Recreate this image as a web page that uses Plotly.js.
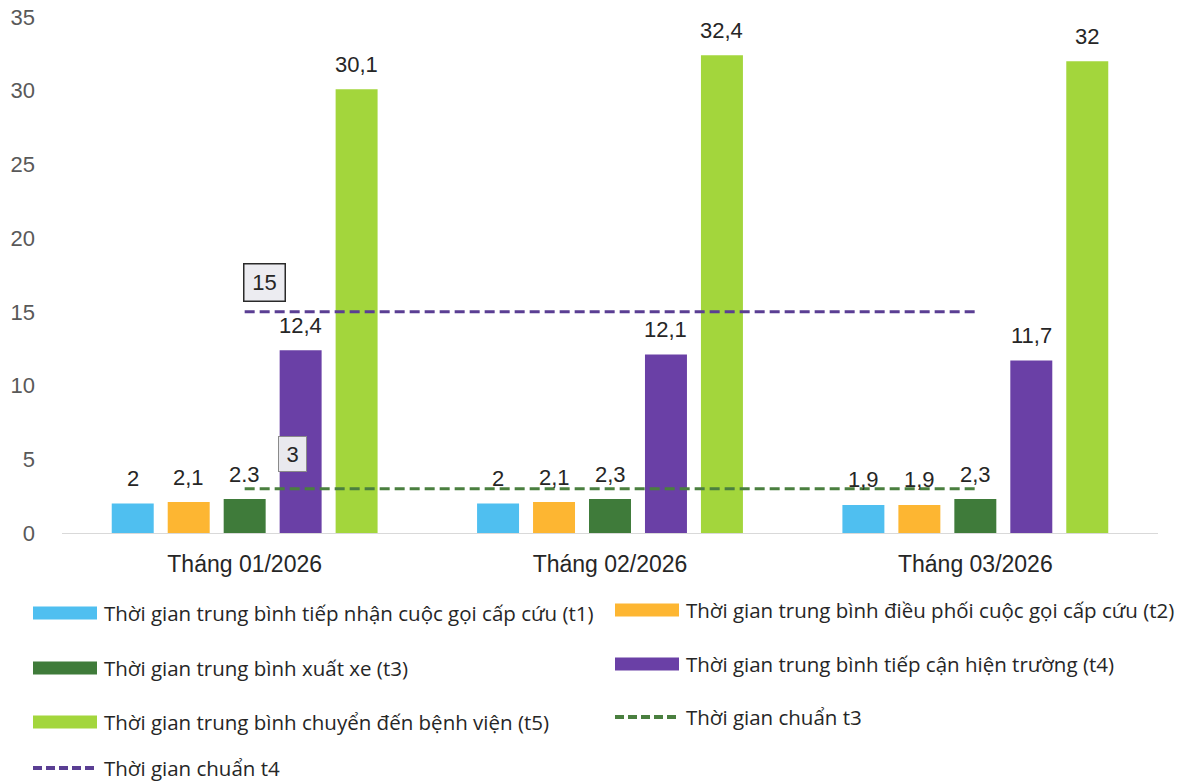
<!DOCTYPE html>
<html>
<head>
<meta charset="utf-8">
<script src="https://cdn.plot.ly/plotly-3.0.1.min.js"></script>
<style>
  html, body { margin: 0; padding: 0; background: #ffffff; }
  #chart { width: 1187px; height: 784px; }
</style>
</head>
<body>
<div id="chart"></div>
<script>
// Months on the category axis
const categories = ['Tháng 01/2026', 'Tháng 02/2026', 'Tháng 03/2026'];

// Average times per stage (minutes)
const t1 = [2, 2, 1.9];
const t2 = [2.1, 2.1, 1.9];
const t3 = [2.3, 2.3, 2.3];
const t4 = [12.4, 12.1, 11.7];
const t5 = [30.1, 32.4, 32];

// Printed value labels for each series
const t1Labels = ['2', '2', '1,9'];
const t2Labels = ['2,1', '2,1', '1,9'];
const t3Labels = ['2.3', '2,3', '2,3'];
const t4Labels = ['12,4', '12,1', '11,7'];
const t5Labels = ['30,1', '32,4', '32'];

// Standard (target) times
const standardT3 = [3, 3, 3];
const standardT4 = [15, 15, 15];

const seriesNames = [
  'Thời gian trung bình tiếp nhận cuộc gọi cấp cứu (t1)',
  'Thời gian trung bình điều phối cuộc gọi cấp cứu (t2)',
  'Thời gian trung bình xuất xe (t3)',
  'Thời gian trung bình tiếp cận hiện trường (t4)',
  'Thời gian trung bình chuyển đến bệnh viện (t5)'
];
const standardNames = ['Thời gian chuẩn t3', 'Thời gian chuẩn t4'];

const barColors = ['#4fbff0', '#fdb632', '#3f7b3a', '#6a40a6', '#a3d63c'];
const standardColors = ['#4a7f3f', '#5a3e93'];

const W = 1187, H = 784;
const M = { l: 62, r: 29, t: 17, b: 251 };
const plotW = W - M.l - M.r;
const plotH = H - M.t - M.b;
const BARGAP = 0.234, BARGROUPGAP = 0.25;
const FONT = '"Liberation Sans", Arial, sans-serif';
const LEGEND_FONT = '"Open Sans", "Liberation Sans", sans-serif';

const seriesValues = [t1, t2, t3, t4, t5];
const seriesLabels = [t1Labels, t2Labels, t3Labels, t4Labels, t5Labels];

const traces = seriesValues.map((vals, i) => ({
  type: 'bar',
  name: seriesNames[i],
  x: categories,
  y: vals,
  marker: { color: barColors[i], line: { width: 0 } },
  showlegend: false,
  hoverinfo: 'x+y'
}));

[standardT3, standardT4].forEach((vals, i) => {
  traces.push({
    type: 'scatter',
    mode: 'lines',
    name: standardNames[i],
    x: categories,
    y: vals,
    line: { color: standardColors[i], width: 3, dash: '10px,5px' },
    showlegend: false
  });
});

// Value labels above every bar, shifted to the bar's slot inside its group
const annotations = [];
const slot = (plotW / categories.length) * (1 - BARGAP) / seriesValues.length;
seriesValues.forEach((vals, i) => {
  vals.forEach((v, j) => {
    annotations.push({
      x: categories[j], y: v, xref: 'x', yref: 'y',
      text: seriesLabels[i][j],
      showarrow: false,
      xanchor: 'center', yanchor: 'middle',
      xshift: (i - (seriesValues.length - 1) / 2) * slot,
      yshift: 25,
      font: { family: FONT, size: 22, color: '#262626' }
    });
  });
});

// Boxed callouts for the standard lines
annotations.push({
  x: categories[0], y: standardT4[0], xref: 'x', yref: 'y',
  text: String(standardT4[0]), showarrow: false,
  xanchor: 'left', yanchor: 'bottom', xshift: -2, yshift: 10,
  width: 30, height: 26, borderpad: 5,
  bgcolor: '#ececf1', bordercolor: '#2a2a2a', borderwidth: 1.5,
  font: { family: FONT, size: 22, color: '#262626' }
});
annotations.push({
  x: categories[0], y: standardT3[0], xref: 'x', yref: 'y',
  text: String(standardT3[0]), showarrow: false,
  xanchor: 'left', yanchor: 'bottom', xshift: 33, yshift: 17,
  width: 17, height: 24, borderpad: 5,
  bgcolor: '#e9e9ee', bordercolor: '#8a8a8a', borderwidth: 1,
  font: { family: FONT, size: 22, color: '#262626' }
});

// Two-column legend below the chart
const px2x = px => (px - M.l) / plotW;
const py2y = py => (H - M.b - py) / plotH;
const shapes = [];
const legendEntries = [
  { name: seriesNames[0], color: barColors[0], kind: 'bar', col: 0, row: 0 },
  { name: seriesNames[1], color: barColors[1], kind: 'bar', col: 1, row: 0 },
  { name: seriesNames[2], color: barColors[2], kind: 'bar', col: 0, row: 1 },
  { name: seriesNames[3], color: barColors[3], kind: 'bar', col: 1, row: 1 },
  { name: seriesNames[4], color: barColors[4], kind: 'bar', col: 0, row: 2 },
  { name: standardNames[0], color: standardColors[0], kind: 'line', col: 1, row: 2 },
  { name: standardNames[1], color: standardColors[1], kind: 'line', col: 0, row: 3 }
];
const colX = [33, 615];
const rowY = [[613, 668, 722, 768], [610, 664, 717, 768]];
const swatchW = 64;
legendEntries.forEach(e => {
  const x0 = colX[e.col], x1 = x0 + swatchW, yc = rowY[e.col][e.row];
  if (e.kind === 'bar') {
    shapes.push({
      type: 'rect', xref: 'paper', yref: 'paper',
      x0: px2x(x0), x1: px2x(x1), y0: py2y(yc + 6.5), y1: py2y(yc - 6.5),
      fillcolor: e.color, line: { width: 0 }
    });
  } else {
    shapes.push({
      type: 'line', xref: 'paper', yref: 'paper',
      x0: px2x(x0), x1: px2x(x1), y0: py2y(yc), y1: py2y(yc),
      line: { color: e.color, width: 4, dash: '9px,4px' }
    });
  }
  annotations.push({
    xref: 'paper', yref: 'paper',
    x: px2x(x1 + 5), y: py2y(yc),
    xanchor: 'left', yanchor: 'middle',
    text: e.name, showarrow: false,
    font: { family: LEGEND_FONT, size: 20.5, color: '#262626' }
  });
});

const layout = {
  width: W, height: H,
  margin: M,
  paper_bgcolor: '#ffffff',
  plot_bgcolor: '#ffffff',
  barmode: 'group',
  bargap: BARGAP,
  bargroupgap: BARGROUPGAP,
  showlegend: false,
  font: { family: FONT, color: '#262626' },
  xaxis: {
    type: 'category',
    showgrid: false,
    showline: true,
    linecolor: '#d9d9d9',
    linewidth: 1,
    ticks: '',
    ticklabelstandoff: 10,
    tickfont: { family: FONT, size: 23, color: '#262626' }
  },
  yaxis: {
    range: [0, 35],
    tickvals: [0, 5, 10, 15, 20, 25, 30, 35],
    showgrid: false,
    zeroline: false,
    showline: false,
    ticks: '',
    ticklabelstandoff: 26,
    tickfont: { family: FONT, size: 22, color: '#595959' }
  },
  annotations: annotations,
  shapes: shapes
};

Plotly.newPlot('chart', traces, layout, { displayModeBar: false, staticPlot: true });
</script>
</body>
</html>
